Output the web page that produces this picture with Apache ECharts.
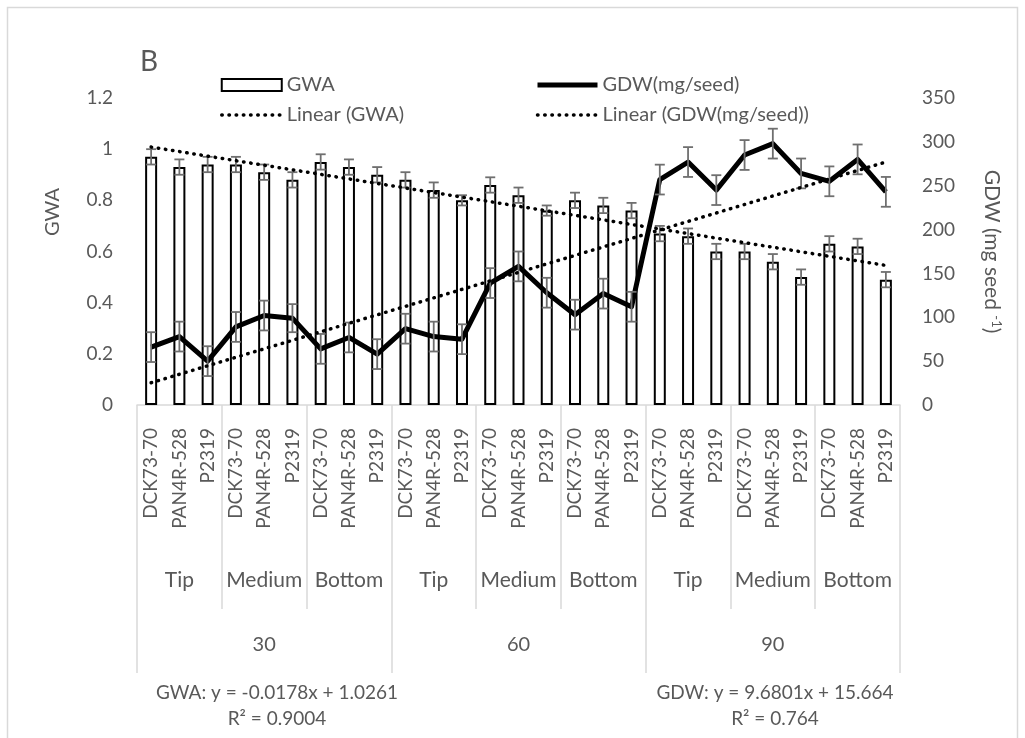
<!DOCTYPE html>
<html>
<head>
<meta charset="utf-8">
<script src="https://cdn.jsdelivr.net/npm/echarts@6/dist/echarts.min.js"></script>
<style>
  html, body { margin: 0; padding: 0; background: #fff; }
  #chart { width: 1025px; height: 738px; }
</style>
</head>
<body>
<div id="chart"></div>
<script>
// Sampling days, cob positions and varieties (three-level category axis)
const days = ['30', '60', '90'];
const positions = ['Tip', 'Medium', 'Bottom'];
const varieties = ['DCK73-70', 'PAN4R-528', 'P2319'];

// Germination water absorption (GWA) and its error
const gwa = [0.97, 0.93, 0.94, 0.94, 0.91, 0.88, 0.95, 0.93, 0.90,
             0.88, 0.84, 0.80, 0.86, 0.82, 0.76, 0.80, 0.78, 0.76,
             0.67, 0.66, 0.60, 0.60, 0.56, 0.50, 0.63, 0.62, 0.49];
const gwaErr = [0.03, 0.03, 0.03, 0.03, 0.03, 0.03, 0.03, 0.03, 0.03,
                0.03, 0.03, 0.02, 0.03, 0.03, 0.02, 0.03, 0.03, 0.03,
                0.03, 0.03, 0.03, 0.03, 0.03, 0.03, 0.03, 0.03, 0.03];

// Grain dry weight (GDW, mg/seed) and its error
const gdw = [66, 78, 50, 89, 102, 99, 64, 77, 58,
             87, 78, 75, 139, 158, 128, 103, 127, 112,
             257, 277, 245, 285, 298, 264, 255, 280, 243];
const gdwErr = [17, 17, 17, 17, 17, 16, 17, 17, 17,
                17, 17, 17, 17, 17, 17, 17, 17, 17,
                17, 17, 17, 17, 17, 17, 17, 17, 17];

// Axis ranges and tick steps
const gwaAxis = { min: 0, max: 1.2, step: 0.2 };
const gdwAxis = { min: 0, max: 350, step: 50 };

// Linear trend fits (x = 1..27)
const gwaFit = { slope: -0.0178, intercept: 1.0261, r2: '0.9004' };
const gdwFit = { slope: 9.6801, intercept: 15.664, r2: '0.764' };

const FONT = 'Lato';
const GREY = '#595959';
const RULE = '#d9d9d9';

const n = gwa.length;
const varietyCats = [];
const positionCats = [];
days.forEach(() => positions.forEach(p => {
  positionCats.push(p);
  varieties.forEach(v => varietyCats.push(v));
}));

// Straight trend line through its two end points
function trendData(fit) {
  const arr = new Array(n).fill(null);
  arr[0] = fit.intercept + fit.slope * 1;
  arr[n - 1] = fit.intercept + fit.slope * n;
  return arr;
}
function fmtEq(fit) {
  const sign = fit.intercept < 0 ? '-' : '+';
  return 'y = ' + fit.slope + 'x ' + sign + ' ' + Math.abs(fit.intercept);
}

// Vertical error bar with caps
function errorBar(params, api) {
  const i = api.value(0), v = api.value(1), e = api.value(2);
  const hi = api.coord([i, v + e]);
  const lo = api.coord([i, v - e]);
  const hw = 5;
  const st = { stroke: '#6f6f6f', lineWidth: 1.8 };
  return {
    type: 'group',
    children: [
      { type: 'line', shape: { x1: hi[0], y1: hi[1], x2: lo[0], y2: lo[1] }, style: st },
      { type: 'line', shape: { x1: hi[0] - hw, y1: hi[1], x2: hi[0] + hw, y2: hi[1] }, style: st },
      { type: 'line', shape: { x1: lo[0] - hw, y1: lo[1], x2: lo[0] + hw, y2: lo[1] }, style: st }
    ]
  };
}

const dotted = { color: '#000', width: 3.5, type: [0.5, 6.7], cap: 'round' };
const labelStyle = { color: GREY, fontSize: 19, fontFamily: FONT };
const legendText = { color: GREY, fontSize: 20, fontFamily: FONT };
const noMarker = { opacity: 0 };

const chart = echarts.init(document.getElementById('chart'), null, { renderer: 'canvas' });
chart.setOption({
  backgroundColor: '#fff',
  animation: false,
  textStyle: { fontFamily: FONT },
  title: {
    text: 'B', left: 135, top: 43,
    textStyle: { fontSize: 28, fontWeight: 'normal', color: GREY, fontFamily: FONT }
  },
  legend: [
    {
      left: 215, top: 70, orient: 'vertical', itemWidth: 60, itemHeight: 12, itemGap: 10,
      selectedMode: false, textStyle: legendText,
      data: [
        { name: 'GWA', icon: 'rect', itemStyle: { color: '#fff', borderColor: '#000', borderWidth: 2 } },
        { name: 'Linear (GWA)', itemStyle: noMarker,
          lineStyle: { width: 3.5, type: [0.5, 6.7], cap: 'round', color: '#000' } }
      ]
    },
    {
      left: 530, top: 70, orient: 'vertical', itemWidth: 60, itemHeight: 12, itemGap: 10,
      selectedMode: false, textStyle: legendText,
      data: [
        { name: 'GDW(mg/seed)', itemStyle: noMarker, lineStyle: { width: 5, color: '#000' } },
        { name: 'Linear (GDW(mg/seed))', itemStyle: noMarker,
          lineStyle: { width: 3.5, type: [0.5, 6.7], cap: 'round', color: '#000' } }
      ]
    }
  ],
  grid: { left: 137, right: 125, top: 98, bottom: 333, containLabel: false },
  xAxis: [
    {
      type: 'category', data: varietyCats, position: 'bottom',
      axisLine: { lineStyle: { color: RULE, width: 1.5 } },
      axisTick: { show: false },
      axisLabel: Object.assign({ interval: 0, rotate: 90, margin: 23 }, labelStyle)
    },
    {
      type: 'category', data: positionCats, position: 'bottom',
      axisLine: { show: false },
      axisTick: { show: true, interval: 0, length: 204, lineStyle: { color: RULE, width: 1.5 } },
      axisLabel: Object.assign({}, labelStyle, { interval: 0, margin: 165, fontSize: 21 })
    },
    {
      type: 'category', data: days, position: 'bottom',
      axisLine: { show: false },
      axisTick: { show: true, interval: 0, length: 268, lineStyle: { color: RULE, width: 1.5 } },
      axisLabel: Object.assign({}, labelStyle, { interval: 0, margin: 230, fontSize: 20 })
    }
  ],
  yAxis: [
    {
      type: 'value', position: 'left', min: gwaAxis.min, max: gwaAxis.max, interval: gwaAxis.step,
      axisLine: { show: false }, axisTick: { show: false }, splitLine: { show: false },
      axisLabel: Object.assign({ margin: 24, formatter: v => String(+v.toFixed(1)) }, labelStyle)
    },
    {
      type: 'value', position: 'right', min: gdwAxis.min, max: gdwAxis.max, interval: gdwAxis.step,
      axisLine: { show: false }, axisTick: { show: false }, splitLine: { show: false },
      axisLabel: Object.assign({ margin: 22 }, labelStyle),
      name: 'GDW (mg seed {sup|-1})', nameLocation: 'middle', nameRotate: -90, nameGap: 80,
      nameTextStyle: {
        color: GREY, fontSize: 21, fontFamily: FONT,
        rich: { sup: { fontSize: 13, color: GREY, fontFamily: FONT, padding: [0, 0, 10, 0] } }
      }
    }
  ],
  series: [
    {
      name: 'GWA', type: 'bar', xAxisIndex: 0, yAxisIndex: 0, data: gwa, barWidth: 12, z: 2,
      itemStyle: { color: '#fff', borderColor: '#000', borderWidth: 2 }
    },
    {
      name: 'GWA error', type: 'custom', xAxisIndex: 0, yAxisIndex: 0, z: 3,
      renderItem: errorBar,
      data: gwa.map((v, i) => [i, v, gwaErr[i]])
    },
    {
      name: 'GDW(mg/seed)', type: 'line', xAxisIndex: 0, yAxisIndex: 1, data: gdw, z: 4,
      symbol: 'none', lineStyle: { color: '#000', width: 5, join: 'round' }, itemStyle: { color: '#000' }
    },
    {
      name: 'GDW error', type: 'custom', xAxisIndex: 0, yAxisIndex: 1, z: 5,
      renderItem: errorBar,
      data: gdw.map((v, i) => [i, v, gdwErr[i]])
    },
    {
      name: 'Linear (GWA)', type: 'line', xAxisIndex: 0, yAxisIndex: 0, z: 6,
      data: trendData(gwaFit), connectNulls: true, symbol: 'none',
      lineStyle: dotted, itemStyle: { color: '#000' }
    },
    {
      name: 'Linear (GDW(mg/seed))', type: 'line', xAxisIndex: 0, yAxisIndex: 1, z: 6,
      data: trendData(gdwFit), connectNulls: true, symbol: 'none',
      lineStyle: dotted, itemStyle: { color: '#000' }
    }
  ],
  graphic: [
    {
      type: 'rect', silent: true, z: -1,
      shape: { x: 7.5, y: 7.5, width: 1010, height: 740 },
      style: { fill: 'none', stroke: RULE, lineWidth: 1.5 }
    },
    {
      type: 'text', x: 53, y: 212, rotation: Math.PI / 2,
      style: { text: 'GWA', fill: GREY, font: '20px ' + FONT, align: 'center', verticalAlign: 'middle' }
    },
    {
      type: 'text', x: 277, y: 693,
      style: { text: 'GWA: ' + fmtEq(gwaFit), fill: GREY, font: '19px ' + FONT, align: 'center', verticalAlign: 'middle' }
    },
    {
      type: 'text', x: 277, y: 719,
      style: { text: 'R² = ' + gwaFit.r2, fill: GREY, font: '19px ' + FONT, align: 'center', verticalAlign: 'middle' }
    },
    {
      type: 'text', x: 775, y: 693,
      style: { text: 'GDW: ' + fmtEq(gdwFit), fill: GREY, font: '19px ' + FONT, align: 'center', verticalAlign: 'middle' }
    },
    {
      type: 'text', x: 775, y: 719,
      style: { text: 'R² = ' + gdwFit.r2, fill: GREY, font: '19px ' + FONT, align: 'center', verticalAlign: 'middle' }
    }
  ]
});
</script>
</body>
</html>
